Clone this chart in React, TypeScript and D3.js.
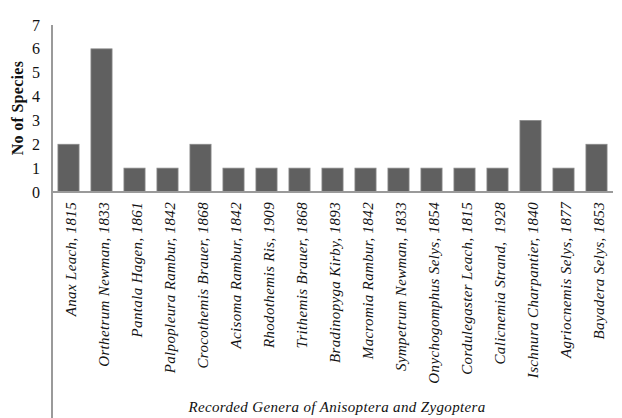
import React from "react";
import * as d3 from "d3";

const categories = [
  "Anax Leach, 1815",
  "Orthetrum Newman, 1833",
  "Pantala Hagen, 1861",
  "Palpopleura Rambur, 1842",
  "Crocothemis Brauer, 1868",
  "Acisoma Rambur, 1842",
  "Rhodothemis Ris, 1909",
  "Trithemis Brauer, 1868",
  "Bradinopyga Kirby, 1893",
  "Macromia Rambur, 1842",
  "Sympetrum Newman, 1833",
  "Onychogomphus Selys, 1854",
  "Cordulegaster Leach, 1815",
  "Calicnemia Strand,  1928",
  "Ischnura Charpantier, 1840",
  "Agriocnemis Selys, 1877",
  "Bayadera Selys, 1853",
];
const values = [2, 6, 1, 1, 2, 1, 1, 1, 1, 1, 1, 1, 1, 1, 3, 1, 2];
const yTicks = [0, 1, 2, 3, 4, 5, 6, 7];

export default function App() {
  const W = 622, H = 418;
  const left = 52, right = 613, top = 25, base = 192;
  const x = d3.scaleBand<string>().domain(categories).range([left, right]).paddingInner(0.36).paddingOuter(0.18);
  const y = d3.scaleLinear().domain([0, 7]).range([base, top]);
  const font = "'Liberation Serif', 'Times New Roman', serif";
  return (
    <svg width={W} height={H} style={{ position: "absolute", left: 0, top: 0, background: "#fff" }}>
      {categories.map((c, i) => (
        <rect key={c} x={x(c)!} y={y(values[i])} width={x.bandwidth()} height={base - y(values[i])}
          fill="#606060" stroke="#8a8a8a" strokeWidth={0.8} />
      ))}
      <line x1={left} x2={left} y1={top} y2={H} stroke="#9a9a9a" strokeWidth={2} />
      <line x1={left} x2={right} y1={base} y2={base} stroke="#9a9a9a" strokeWidth={2} />
      {yTicks.map((t) => (
        <text key={t} x={40} y={y(t)} dy="0.35em" textAnchor="end" fontFamily={font} fontSize={16} fill="#111">{t}</text>
      ))}
      {categories.map((c) => {
        const cx = x(c)! + x.bandwidth() / 2 + 2;
        return (
          <text key={c} transform={`translate(${cx},${base + 10}) rotate(-90)`} dy="0.35em" textAnchor="end"
            fontFamily={font} fontStyle="italic" fontSize={15} letterSpacing={0.35} fill="#111" style={{ whiteSpace: "pre" }}>{c}</text>
        );
      })}
      <text transform={`translate(17,108) rotate(-90)`} dy="0.35em" textAnchor="middle" fontFamily={font}
        fontWeight="bold" fontSize={16} letterSpacing={0.3} fill="#111">No of Species</text>
      <text x={337} y={412} textAnchor="middle" fontFamily={font} fontStyle="italic" fontSize={15} letterSpacing={0.35} fill="#111">
        Recorded Genera of Anisoptera and Zygoptera
      </text>
    </svg>
  );
}
